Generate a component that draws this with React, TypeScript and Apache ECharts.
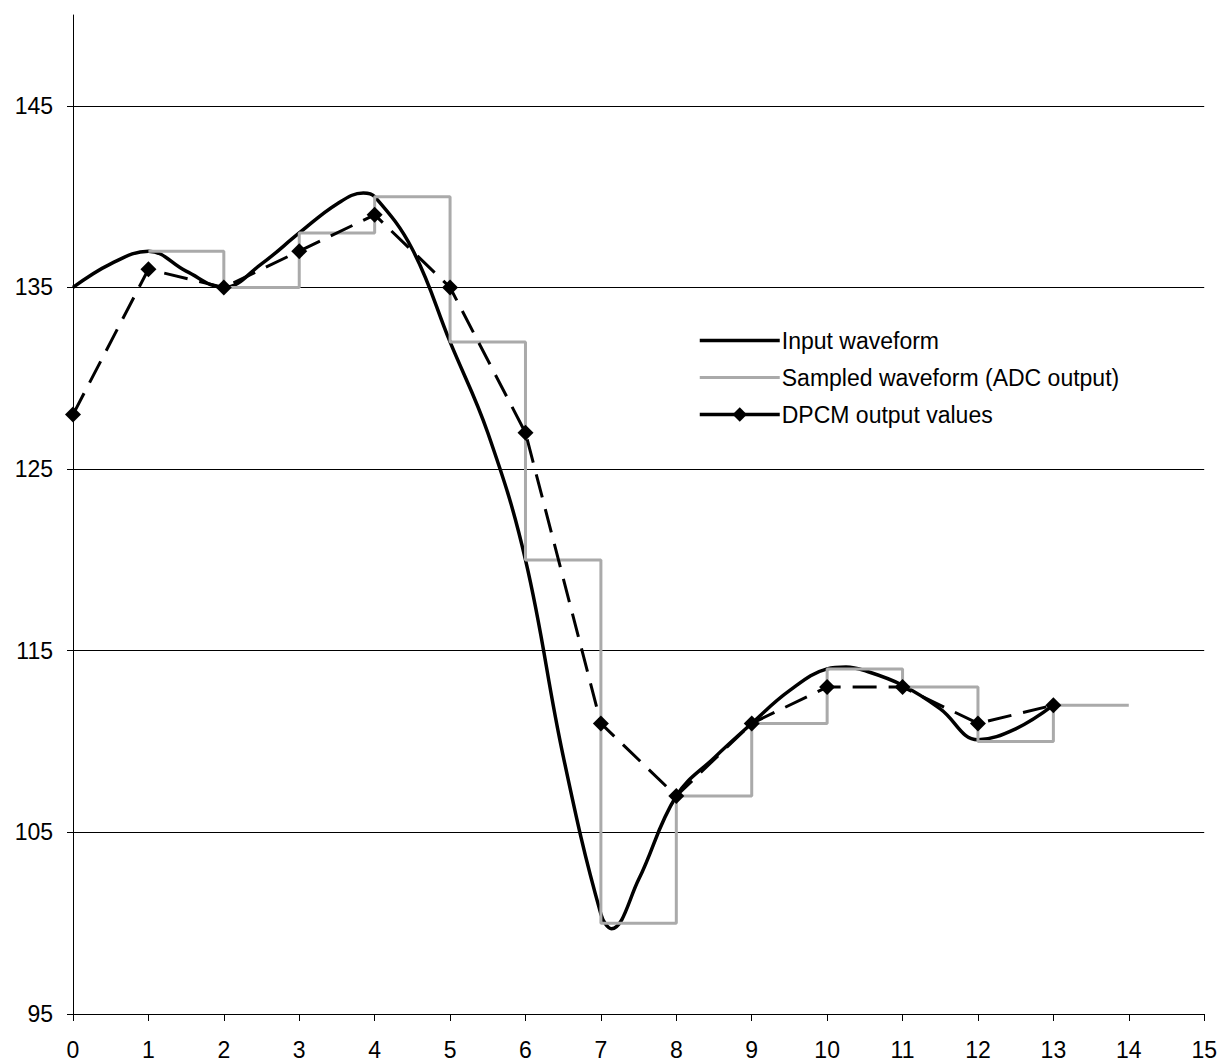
import React, { useEffect, useRef } from "react";
import * as echarts from "echarts";

// Input waveform (continuous signal)
const inputX = [0, 0.5, 1, 1.5, 2, 2.5, 3, 3.5, 3.85, 4, 4.5, 5, 5.5, 6, 6.5, 7, 7.14, 7.5, 8, 8.5, 9, 9.5, 10, 10.25, 10.5, 11, 11.5, 12, 12.5, 13];
const inputY = [135, 136.3, 137, 135.9, 135, 136.3, 138, 139.6, 140.2, 140.0, 137.1, 132, 127, 120, 109.2, 100.5, 99.7, 102.4, 107, 109.1, 111, 112.8, 114, 114.1, 113.9, 113.1, 111.8, 110.1, 110.7, 112];

// Sampled waveform (ADC output), step values
const sampledX = [1, 2, 3, 4, 5, 6, 7, 8, 9, 10, 11, 12, 13, 14];
const sampledY = [137, 135, 138, 140, 132, 120, 100, 107, 111, 114, 113, 110, 112, 112];

// DPCM output values
const dpcmX = [0, 1, 2, 3, 4, 5, 6, 7, 8, 9, 10, 11, 12, 13];
const dpcmY = [128, 136, 135, 137, 139, 135, 127, 111, 107, 111, 113, 113, 111, 112];

// Axis ticks
const yTicks = [95, 105, 115, 125, 135, 145];

const seriesNames = ["Input waveform", "Sampled waveform (ADC output)", "DPCM output values"];

const FONT = "'Liberation Sans', Arial, sans-serif";

export default function App() {
  const ref = useRef<HTMLDivElement>(null);
  useEffect(() => {
    if (!ref.current) return;
    const chart = echarts.init(ref.current, undefined, { renderer: "svg" });
    const zip = (xs: number[], ys: number[]) => xs.map((x, i) => [x, ys[i]]);
    chart.setOption({
      animation: false,
      backgroundColor: "#ffffff",
      textStyle: { fontFamily: FONT },
      grid: { left: 73, right: 15, top: 15, bottom: 46, containLabel: false },
      legend: {
        orient: "vertical",
        left: 698,
        top: 329,
        padding: 0,
        itemWidth: 80,
        itemHeight: 18,
        itemGap: 14,
        textStyle: { fontFamily: FONT, fontSize: 23, color: "#000", lineHeight: 23, padding: [0, 0, 0, -3] },
        data: [
          { name: seriesNames[0], itemStyle: { opacity: 0 }, lineStyle: { width: 3.5 } },
          { name: seriesNames[1], itemStyle: { opacity: 0 }, lineStyle: { width: 3 } },
          { name: seriesNames[2], lineStyle: { type: "solid", width: 3.5 } },
        ],
      },
      xAxis: {
        type: "value",
        min: 0,
        max: 15,
        interval: 1,
        axisLine: { show: true, onZero: false, lineStyle: { color: "#000", width: 1 } },
        axisTick: { show: true, inside: false, length: 7, lineStyle: { color: "#000" } },
        axisLabel: { fontFamily: FONT, fontSize: 23, color: "#000", margin: 24 },
        splitLine: { show: false },
      },
      yAxis: {
        type: "value",
        min: 95,
        max: 150,
        interval: 10,
        axisLine: { show: true, onZero: false, lineStyle: { color: "#000", width: 1 } },
        axisTick: { show: true, inside: false, length: 6, lineStyle: { color: "#000" }, customValues: yTicks },
        axisLabel: { fontFamily: FONT, fontSize: 23, color: "#000", margin: 20, customValues: yTicks },
        splitLine: { show: true, lineStyle: { color: "#000", width: 1 } },
      },
      series: [
        {
          name: seriesNames[0],
          type: "line",
          data: zip(inputX, inputY),
          smooth: 0.4,
          symbol: "none",
          lineStyle: { color: "#000", width: 3.5 },
          itemStyle: { color: "#000" },
          z: 2,
        },
        {
          name: seriesNames[1],
          type: "line",
          data: zip(sampledX, sampledY),
          step: "end",
          symbol: "none",
          lineStyle: { color: "#aaaaaa", width: 3 },
          itemStyle: { color: "#aaaaaa" },
          z: 3,
        },
        {
          name: seriesNames[2],
          type: "line",
          data: zip(dpcmX, dpcmY),
          symbol: "diamond",
          symbolSize: 16,
          showSymbol: true,
          lineStyle: { color: "#000", width: 3, type: [24, 12] },
          itemStyle: { color: "#000" },
          z: 4,
        },
      ],
    });
    return () => chart.dispose();
  }, []);
  return (
    <div
      ref={ref}
      style={{ position: "absolute", left: 0, top: 0, width: 1220, height: 1061, background: "#fff" }}
    />
  );
}
